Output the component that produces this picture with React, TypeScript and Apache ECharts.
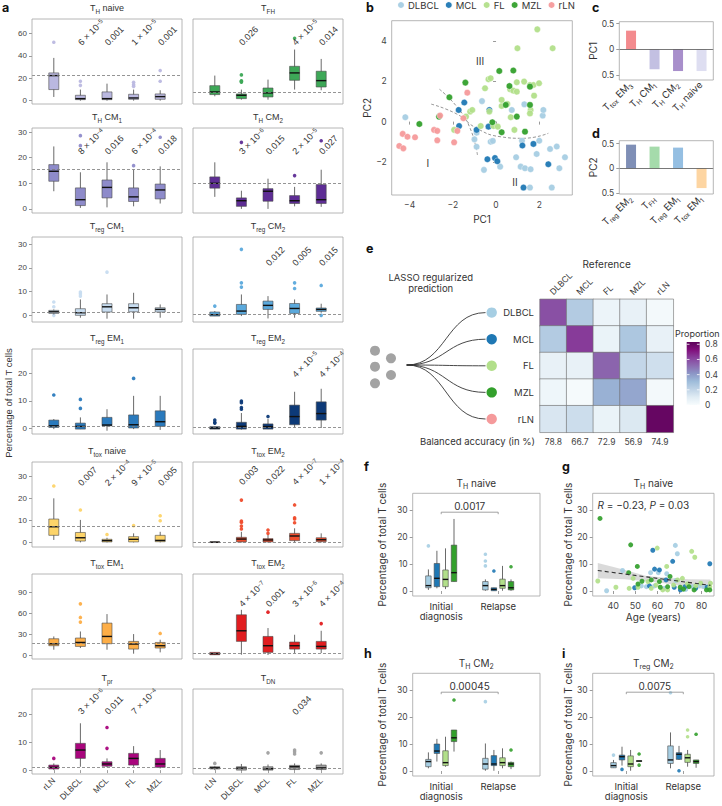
import React, { useEffect, useRef } from 'react';
import * as echarts from 'echarts';

// ---------------- categories ----------------
const subtypes = ['rLN', 'DLBCL', 'MCL', 'FL', 'MZL'];
const lymphomas = ['DLBCL', 'MCL', 'FL', 'MZL'];
const groups = ['Initial\ndiagnosis', 'Relapse'];

// ---------------- panel a : [min, Q1, median, Q3, max] per subtype (rLN, DLBCL, MCL, FL, MZL) ----------------
const thNaiveBoxes = [[3.3, 9.9, 22.4, 24.8, 38.2], [0, 0.9, 1.8, 4.8, 9.9], [0, 0.9, 1.8, 7.8, 15.2], [0, 1.2, 2.4, 5.7, 9.9], [0, 1.2, 3.6, 6.0, 9.3]];
const thNaiveOut = [[0, 52.2], [1, 17.3], [1, 13.7], [3, 16.4], [3, 14.3], [3, 12.8], [4, 26.9], [4, 17.3]];
const thNaiveRef = 22.4;
const thNaiveP = [['DLBCL', '6 × 10^{−5}'], ['MCL', '0.001'], ['FL', '1 × 10^{−5}'], ['MZL', '0.001']];

const tfhBoxes = [[3.9, 5.4, 7.8, 13.4, 22.4], [0.9, 1.8, 4.8, 6.0, 9.9], [0.9, 3.3, 6.9, 11.3, 18.8], [9.9, 18.2, 24.8, 30.7, 45.7], [9.3, 12.2, 17.9, 26.3, 37.3]];
const tfhOut = [[1, 23.0], [1, 17.8], [1, 16.6], [1, 17.2], [3, 55.8]];
const tfhRef = 7.8;
const tfhP = [['DLBCL', '0.026'], ['FL', '4 × 10^{−5}'], ['MZL', '0.014']];

const thCm1Boxes = [[6.9, 10.8, 14.7, 17.3, 24.4], [0.4, 1.3, 3.6, 8.2, 14.3], [0.6, 4.3, 8.4, 11.3, 18.2], [1.0, 2.9, 4.7, 8.2, 15.3], [2.1, 3.9, 7.4, 9.7, 16.6]];
const thCm1Out = [[1, 28.6], [1, 24.7], [3, 16.9], [4, 28.0]];
const thCm1Ref = 15.5;
const thCm1P = [['DLBCL', '8 × 10^{−4}'], ['MCL', '0.016'], ['FL', '6 × 10^{−4}'], ['MZL', '0.018']];

const thCm2Boxes = [[4.7, 8.1, 10.0, 12.5, 18.2], [0, 1.0, 3.2, 4.3, 7.1], [0, 3.0, 6.9, 7.9, 11.8], [1.0, 2.1, 3.2, 5.2, 8.6], [0.8, 2.1, 3.6, 9.5, 15.3]];
const thCm2Out = [[1, 26.0], [3, 13.0], [4, 26.6]];
const thCm2Ref = 9.9;
const thCm2P = [['DLBCL', '3 × 10^{−6}'], ['MCL', '0.015'], ['FL', '2 × 10^{−5}'], ['MZL', '0.027']];

const tregCm1Boxes = [[0.4, 0.8, 1.5, 2.1, 2.5], [-1.0, 0, 1.1, 2.8, 6.7], [-1.4, 1.4, 3.6, 4.9, 8.8], [-1.4, 1.5, 3.2, 4.9, 9.5], [-1.0, 1.4, 2.5, 3.2, 4.6]];
const tregCm1Out = [[0, 5.6], [0, 3.6], [0, 0], [1, 9.8], [1, 9.1], [1, 8.1], [2, 18.2]];
const tregCm1Ref = 1.5;
const tregCm1P: string[][] = [];

const tregCm2Boxes = [[-0.3, -0.3, 0.3, 1.4, 1.8], [-0.3, 0.4, 1.8, 4.6, 8.8], [-1.3, 2.5, 4.2, 6.0, 8.1], [-1.0, 0.8, 2.9, 5.0, 6.7], [1.1, 1.7, 2.5, 3.1, 4.9]];
const tregCm2Out = [[0, 3.9], [1, 27.8], [1, 13.7], [1, 11.9], [3, 13.7], [3, 11.3], [4, 12.6], [4, 0]];
const tregCm2Ref = 0.3;
const tregCm2P = [['MCL', '0.012'], ['FL', '0.005'], ['MZL', '0.015']];

const tregEm1Boxes = [[-0.4, 0.2, 0.8, 2.9, 3.3], [-0.4, -0.4, 0.6, 1.8, 3.9], [-1.0, 0.8, 1.1, 3.9, 6.9], [-0.4, 0, 1.2, 4.8, 11.8], [-0.7, 0.6, 2.3, 6.3, 11.8]];
const tregEm1Out = [[0, 12.1], [1, 10.5], [1, 7.2], [3, 18.2]];
const tregEm1Ref = 0.6;
const tregEm1P: string[][] = [];

const tregEm2Boxes = [[-0.4, -0.4, 0, 0.5, 0.5], [-0.6, -0.4, 0.6, 2.1, 5.5], [-0.4, -0.4, 0.5, 1.5, 3.3], [0.2, 1.2, 4.2, 8.4, 13.3], [0, 2.9, 5.3, 9.6, 14.4]];
const tregEm2Out = [[0, 2.9], [0, 2.1], [0, 1.8], [1, 9.9], [1, 9.3], [1, 7.5], [1, 6.9], [2, 4.2]];
const tregEm2Ref = 0.2;
const tregEm2P = [['FL', '4 × 10^{−5}'], ['MZL', '4 × 10^{−4}']];

const ttoxNaiveBoxes = [[1.1, 3.2, 7.1, 10.6, 20.0], [0, 0.6, 2.1, 4.5, 10.2], [0, 0.2, 0.8, 1.4, 2.1], [0, 0.2, 1.4, 2.6, 4.1], [0, 0.3, 0.9, 3.2, 4.8]];
const ttoxNaiveOut = [[0, 25.6], [1, 14.7], [2, 3.6], [3, 7.6], [4, 12.1], [4, 9.8]];
const ttoxNaiveRef = 7.3;
const ttoxNaiveP = [['DLBCL', '0.007'], ['MCL', '2 × 10^{−4}'], ['FL', '9 × 10^{−5}'], ['MZL', '0.005']];

const ttoxEm2aBoxes = [[0, 0, 0.1, 0.2, 0.3], [0, 0.2, 1.5, 2.3, 4.8], [0, 0.2, 1.1, 1.7, 3.3], [0, 0.8, 2.9, 4.1, 6.4], [0, 0.3, 1.2, 2.1, 4.1]];
const ttoxEm2aOut = [[1, 19.2], [1, 9.7], [1, 9.1], [1, 7.4], [1, 6.1], [2, 5.6], [2, 4.1], [3, 17.0], [3, 11.2], [3, 10.6], [3, 8.9]];
const ttoxEm2aRef = 0;
const ttoxEm2aP = [['DLBCL', '0.003'], ['MCL', '0.022'], ['FL', '4 × 10^{−7}'], ['MZL', '1 × 10^{−4}']];

const ttoxEm1Boxes = [[7.6, 13.3, 16.1, 23.3, 26.6], [10.0, 12.3, 18.0, 24.3, 33.7], [7.6, 16.1, 26.6, 45.7, 58.6], [1.9, 8.5, 15.7, 19.5, 30.0], [3.8, 10.0, 13.3, 18.0, 21.9]];
const ttoxEm1Out = [[1, 73.3], [1, 53.8], [1, 47.1], [4, 30.9]];
const ttoxEm1Ref = 16.7;
const ttoxEm1P: string[][] = [];

const ttoxEm2bBoxes = [[0, 0.4, 1.9, 3.8, 3.8], [0.4, 19.5, 34.7, 57.6, 64.7], [0, 3.8, 13.3, 26.6, 38.6], [2.8, 8.5, 13.3, 18.6, 29.0], [2.8, 8.5, 12.3, 19.5, 34.7]];
const ttoxEm2bOut = [[2, 61.4], [4, 45.0]];
const ttoxEm2bRef = 1.9;
const ttoxEm2bP = [['DLBCL', '4 × 10^{−7}'], ['MCL', '0.001'], ['FL', '3 × 10^{−6}'], ['MZL', '4 × 10^{−4}']];

const tprBoxes = [[0, 0.4, 1.0, 1.8, 2.4], [1.2, 4.2, 7.2, 9.6, 16.8], [1.0, 1.4, 2.2, 3.0, 4.2], [1.2, 1.8, 4.2, 6.0, 8.6], [0.6, 1.0, 2.2, 4.2, 7.2]];
const tprOut = [[0, 4.2], [2, 15.3], [2, 7.8]];
const tprRef = 1.0;
const tprP = [['DLBCL', '3 × 10^{−6}'], ['MCL', '0.011'], ['FL', '7 × 10^{−4}']];

const tdnBoxes = [[0, 0.4, 0.8, 1.2, 1.4], [0, 0, 0.7, 1.2, 2.2], [0, 0, 0.5, 1.2, 2.0], [0, 0.2, 1.2, 1.7, 2.4], [0, 0.2, 0.8, 1.8, 2.4]];
const tdnOut = [[0, 2.4], [2, 6.2], [3, 7.2], [3, 6.6], [3, 5.8], [4, 6.2]];
const tdnRef = 0.6;
const tdnP = [['FL', '0.034']];

// ---------------- panel b : PCA coordinates ----------------
const pcaDLBCL = [[-4.2, 0.22], [-0.9, -0.55], [-1.0, -0.88], [-0.9, -1.25], [-0.56, -2.4], [-0.25, -1.0], [-0.15, -0.96], [0.19, -2.24], [0.73, 0.58], [0.93, -1.77], [1.2, -0.95], [1.31, 0.86], [1.14, -2.24], [1.34, -2.32], [1.6, -2.37], [1.57, -3.28], [1.88, -1.61], [2.0, -0.95], [2.16, 0.3], [2.19, 0.58], [2.5, -1.36], [2.81, -1.24], [2.93, -2.32], [3.19, -1.77], [2.58, -3.28], [-0.65, 1.02]];
const pcaMCL = [[-1.47, 0.95], [-1.73, 0.58], [-1.71, -0.22], [-0.9, -0.41], [-0.35, -0.25], [-0.31, 0.58], [-0.4, -1.87], [-0.05, -1.81], [0.06, -1.97], [1.22, -1.19], [1.73, -1.11], [1.27, -3.28], [2.42, -2.12]];
const pcaFL = [[0.99, 3.65], [1.91, 4.59], [2.62, 3.65], [-0.35, 2.11], [-0.25, 2.16], [-0.51, 1.66], [-1.39, 0.25], [-1.2, 0.5], [-1.1, 0.58], [-0.71, -0.22], [-0.31, 0.5], [-0.12, -0.22], [0.08, -0.25], [0.26, 0.78], [0.52, 0.88], [0.65, 1.61], [0.8, 1.54], [0.96, 1.49], [0.96, 1.96], [1.3, 1.99], [1.57, 1.82], [1.73, 1.82], [1.99, 1.91], [1.76, 1.29], [1.6, 0.58], [1.57, 0.41], [0.68, 0.22], [0.85, -0.41], [-1.94, -0.41], [0.26, 1.08]];
const pcaMZL = [[-3.55, -0.12], [-2.16, 1.21], [-1.42, 1.94], [0.15, 2.52], [0.8, 2.54], [0.62, 1.77], [1.57, 1.74], [0.45, 0.83], [0.96, 0.25], [-0.17, -0.03], [0.26, -0.53], [1.34, -0.5], [1.57, 0.83], [-2.64, 0.25]];
const pcaRLN = [[-4.48, -1.21], [-4.29, -1.33], [-4.32, -0.61], [-4.1, -0.75], [-3.75, -0.78], [-2.87, -0.41], [-2.72, -0.46], [-2.72, -0.93], [-2.59, 0.3], [-1.94, -1.03], [-1.79, -0.46], [-1.51, 0.17], [-1.33, 1.44]];
const pcaCurveA = [[-3.0, 0.87], [-1.82, 0.38], [-0.9, -0.33], [0.19, -0.75], [1.27, -0.83], [2.42, -0.58]];
const pcaCurveB = [[-2.62, 1.61], [-1.82, 0.75], [-1.2, -0.33], [-0.86, -1.66]];
const pcaRegionPos = [[-3.16, -2.1], [0.88, -3.06], [-0.74, 2.99]];
const pcaRegionNames = ['I', 'II', 'III'];

// ---------------- panels c, d : loadings ----------------
const pc1Labels = ['T_{tox} EM_{3}', 'T_{H} CM_{1}', 'T_{H} CM_{2}', 'T_{H} naive'];
const pc1Values = [0.365, -0.39, -0.425, -0.425];
const pc2Labels = ['T_{reg} EM_{2}', 'T_{FH}', 'T_{reg} EM_{1}', 'T_{tox} EM_{1}'];
const pc2Values = [0.48, 0.44, 0.42, -0.4];

// ---------------- panel e : confusion proportions (rows = prediction, cols = reference) ----------------
const heatLabels = ['DLBCL', 'MCL', 'FL', 'MZL', 'rLN'];
const heatDLBCL = [0.6, 0.25, 0.05, 0.07, 0.02];
const heatMCL = [0.25, 0.65, 0.06, 0.27, 0.07];
const heatFL = [0.07, 0.07, 0.55, 0.2, 0.16];
const heatMZL = [0.04, 0.01, 0.35, 0.38, 0.02];
const heatRLN = [0.13, 0.17, 0.06, 0.12, 0.82];
const balancedAccuracy = [78.8, 66.7, 72.9, 56.9, 74.9];
const proportionTicks = [0, 0.2, 0.4, 0.6, 0.8];

// ---------------- panels f, h, i : [min, Q1, median, Q3, max] per lymphoma (DLBCL, MCL, FL, MZL) ----------------
const fInitial = [[0.4, 1.2, 2.0, 5.6, 8.0], [1.0, 1.6, 4.7, 10.2, 14.9], [0.7, 1.6, 4.3, 7.8, 15.8], [3.5, 3.5, 6.8, 17.0, 26.7]];
const fRelapse = [[0.1, 0.4, 2.0, 3.5, 4.3], [0.1, 0.1, 0.6, 1.2, 1.2], [0.1, 1.0, 2.0, 4.4, 9.3], [0.1, 0.4, 1.2, 3.5, 4.3]];
const fOutliers = [[0, 0, 16.7], [1, 0, 13.6], [1, 0, 11.1], [1, 0, 9.3], [1, 1, 7.4], [1, 3, 9.0]];
const fTest = { y: 29.2, p: '0.0017' };

const hInitial = [[1.0, 1.6, 3.5, 4.3, 6.9], [3.5, 6.5, 7.4, 10.0, 11.9], [1.6, 2.0, 3.1, 7.5, 12.7], [7.2, 10.9, 12.3, 15.2, 15.2]];
const hRelapse = [[0.1, 0.7, 2.6, 4.7, 10.2], [0.1, 2.0, 2.6, 5.7, 7.8], [1.0, 2.0, 3.1, 4.9, 8.4], [0.7, 1.6, 2.6, 3.2, 3.5]];
const hOutliers = [[0, 3, 26.3], [1, 0, 25.7], [1, 3, 7.8]];
const hTest = { y: 29.2, p: '0.00045' };

const iInitial = [[1.2, 1.2, 2.0, 3.1, 4.1], [2.0, 4.1, 5.3, 5.9, 9.0], [0.1, 1.6, 2.6, 5.6, 7.8], [3.6, 3.6, 3.7, 3.8, 3.8]];
const iRelapse = [[1.0, 2.8, 4.1, 9.3, 14.3], [4.1, 4.3, 6.2, 6.8, 9.3], [1.6, 3.2, 4.9, 6.2, 7.8], [1.2, 2.8, 3.5, 4.1, 4.1]];
const iOutliers = [[0, 0, 5.9], [0, 1, 0.6], [0, 3, 6.3], [0, 3, 2.2], [1, 0, 29.0], [1, 1, 0.1], [1, 2, 15.2], [1, 2, 12.7], [1, 3, 13.6]];
const iTest = { y: 29.2, p: '0.0075' };

// ---------------- panel g : age vs T_H naive ----------------
const ageDLBCL = [[37, 0.1], [44.2, 7.6], [56.9, 6.8], [68.1, 16.9], [69, 13.8], [64.2, 6.4], [60.4, 6.8], [55, 1.6], [58.7, 1.9], [63.1, 1.0], [72.8, 0.6], [75.8, 1.6], [78.8, 1.9], [81, 1.6], [68.4, 3.9], [52.7, 1.9]];
const ageMCL = [[57.9, 15.1], [58.7, 8.1], [60.9, 7.8], [66.9, 11.0], [83.7, 10.1], [49.7, 1.2], [56.4, 1.9], [63.9, 4.1], [67.6, 1.4], [70.4, 0.4], [72.5, 1.6], [77.3, 1.0], [82.5, 1.4]];
const ageFL = [[33, 3.7], [41.2, 1.4], [47.2, 1.0], [51.2, 1.4], [59.9, 15.9], [64.2, 9.1], [75.5, 14.7], [76.9, 12.5], [55.7, 3.5], [57.2, 1.0], [59.4, 2.2], [62.4, 0.4], [64.6, 0.4], [67.3, 2.2], [69.1, 4.1], [71.3, 4.7], [73.6, 2.6], [77.3, 1.9], [79.6, 2.9], [83.7, 1.6], [84, 2.9], [49, 4.7]];
const ageMZL = [[34, 26.9], [47.9, 17.1], [50.9, 9.1], [47, 6.8], [51.2, 2.6], [53, 3.6], [57.2, 4.1], [60.9, 3.5], [61.3, 1.4], [64.6, 1.6], [65.7, 5.4], [70.3, 1.4], [71.8, 0.7], [74.3, 1.6], [76.6, 0.4], [82.2, 0.4], [83.7, 0.4]];
const ageFit = [[33, 7.6], [84, 2.1]];
const bandAges = [33, 45, 55, 63, 74, 84];
const bandLower = [4.7, 4.4, 3.6, 2.9, 1.6, 0.5];
const bandUpper = [10.4, 7.9, 5.6, 5.0, 4.4, 4.3];

// ---------------- styling ----------------
const FA = '"Liberation Sans", Arial, Helvetica, sans-serif';
const FB = 'Inter, "Noto Sans", sans-serif';
const TXT = '#333';
const subtypeColor: any = { DLBCL: '#a6cee3', MCL: '#1f78b4', FL: '#b2df8a', MZL: '#33a02c', rLN: '#f59a9b' };
const lymphColors = lymphomas.map((n) => subtypeColor[n]);
const BUPU = ['#f7fcfd', '#e0ecf4', '#bfd3e6', '#9ebcda', '#8c96c6', '#8c6bb1', '#88419d', '#810f7c', '#5c0258'];
const pc1Colors = ['#f38b8e', '#c3c0e2', '#a88fcb', '#dedef1'];
const pc2Colors = ['#7f8fb6', '#a5dbab', '#95bfe2', '#fdd5a2'];

function richStyles(fs: number, fam: string, color = TXT) {
  const sm = +(fs * 0.7).toFixed(1);
  const base = { fontFamily: fam, color, fill: color };
  return {
    m: { ...base, fontSize: fs, lineHeight: fs + 2, verticalAlign: 'bottom', padding: [3, 0, 2, 0] },
    i: { ...base, fontSize: fs, fontStyle: 'italic', lineHeight: fs + 2, verticalAlign: 'bottom', padding: [3, 0, 2, 0] },
    s: { ...base, fontSize: sm, lineHeight: sm + 1, verticalAlign: 'bottom' },
    p: { ...base, fontSize: sm, lineHeight: sm + 1, verticalAlign: 'top' },
  };
}
function rt(s: string) {
  return s
    .split(/(_\{[^}]*\}|\^\{[^}]*\}|~\{[^}]*\})/)
    .filter((x) => x)
    .map((part) => {
      if (part.startsWith('_{')) return `{s|${part.slice(2, -1)}}`;
      if (part.startsWith('^{')) return `{p|${part.slice(2, -1)}}`;
      if (part.startsWith('~{')) return `{i|${part.slice(2, -1)}}`;
      return `{m|${part}}`;
    })
    .join('');
}
const minus = (v: number) => String(v).replace('-', '\u2212');

const panelsA = [
  { title: 'T_{H} naive', color: '#bab8e0', row: 0, col: 0, boxes: thNaiveBoxes, out: thNaiveOut, ref: thNaiveRef, p: thNaiveP, pOff: 25.5 },
  { title: 'T_{FH}', color: '#3da857', row: 0, col: 1, boxes: tfhBoxes, out: tfhOut, ref: tfhRef, p: tfhP, pOff: 25.5 },
  { title: 'T_{H} CM_{1}', color: '#8e8bca', row: 1, col: 0, boxes: thCm1Boxes, out: thCm1Out, ref: thCm1Ref, p: thCm1P, pOff: 25.5 },
  { title: 'T_{H} CM_{2}', color: '#5e2d95', row: 1, col: 1, boxes: thCm2Boxes, out: thCm2Out, ref: thCm2Ref, p: thCm2P, pOff: 25.5 },
  { title: 'T_{reg} CM_{1}', color: '#c7dcf0', row: 2, col: 0, boxes: tregCm1Boxes, out: tregCm1Out, ref: tregCm1Ref, p: tregCm1P, pOff: 25.5 },
  { title: 'T_{reg} CM_{2}', color: '#5ba9dc', row: 2, col: 1, boxes: tregCm2Boxes, out: tregCm2Out, ref: tregCm2Ref, p: tregCm2P, pOff: 28 },
  { title: 'T_{reg} EM_{1}', color: '#2a7abd', row: 3, col: 0, boxes: tregEm1Boxes, out: tregEm1Out, ref: tregEm1Ref, p: tregEm1P, pOff: 25.5 },
  { title: 'T_{reg} EM_{2}', color: '#0d3a78', row: 3, col: 1, boxes: tregEm2Boxes, out: tregEm2Out, ref: tregEm2Ref, p: tregEm2P, pOff: 27.5 },
  { title: 'T_{tox} naive', color: '#fdd469', row: 4, col: 0, boxes: ttoxNaiveBoxes, out: ttoxNaiveOut, ref: ttoxNaiveRef, p: ttoxNaiveP, pOff: 23 },
  { title: 'T_{tox} EM_{2}', color: '#ef4c2c', row: 4, col: 1, boxes: ttoxEm2aBoxes, out: ttoxEm2aOut, ref: ttoxEm2aRef, p: ttoxEm2aP, pOff: 22 },
  { title: 'T_{tox} EM_{1}', color: '#fdae47', row: 5, col: 0, boxes: ttoxEm1Boxes, out: ttoxEm1Out, ref: ttoxEm1Ref, p: ttoxEm1P, pOff: 25.5 },
  { title: 'T_{tox} EM_{2}', color: '#e11d20', row: 5, col: 1, boxes: ttoxEm2bBoxes, out: ttoxEm2bOut, ref: ttoxEm2bRef, p: ttoxEm2bP, pOff: 32 },
  { title: 'T_{pr}', color: '#a9057d', row: 6, col: 0, boxes: tprBoxes, out: tprOut, ref: tprRef, p: tprP, pOff: 24.5 },
  { title: 'T_{DN}', color: '#a0a0a0', row: 6, col: 1, boxes: tdnBoxes, out: tdnOut, ref: tdnRef, p: tdnP, pOff: 25 },
];
const A_BORDER_X = [32, 193];
const A_W = 150;
const A_H = 85;
const A_INSET = 8.5;
const A_ROW_TOPS = [19, 128, 237, 349, 462, 574, 689];
const A_ROW_SCALES = [
  { min: -3, max: 73, ticks: [0, 20, 40, 60] },
  { min: -1.6, max: 31.6, ticks: [0, 10, 20, 30] },
  { min: -2.8, max: 33, ticks: [0, 10, 20, 30] },
  { min: -2.2, max: 29, ticks: [0, 10, 20] },
  { min: -2.1, max: 36.5, ticks: [0, 10, 20, 30] },
  { min: -5.7, max: 116, ticks: [0, 30, 60, 90] },
  { min: -1.4, max: 29.1, ticks: [0, 10, 20] },
];
const SUB_OFF = [-12.8, -4.3, 4.3, 12.8];

function boxRenderer(color: any, bw: number, offsets?: number[]) {
  return (params: any, api: any) => {
    const k = offsets ? 2 : 1;
    const c = api.value(0);
    const dx = offsets ? offsets[api.value(1)] : 0;
    const pt = (v: number) => api.coord([c, v]);
    const x = pt(api.value(k))[0] + dx;
    const yMin = pt(api.value(k))[1];
    const yQ1 = pt(api.value(k + 1))[1];
    const yMed = pt(api.value(k + 2))[1];
    const yQ3 = pt(api.value(k + 3))[1];
    const yMax = pt(api.value(k + 4))[1];
    const fill = Array.isArray(color) ? color[api.value(1)] : color;
    return {
      type: 'group',
      children: [
        { type: 'line', shape: { x1: x, y1: yMin, x2: x, y2: yMax }, style: { stroke: '#2a2a2a', lineWidth: 0.7 } },
        { type: 'rect', shape: { x: x - bw / 2, y: yQ3, width: bw, height: Math.max(yQ1 - yQ3, 0.6) }, style: { fill, stroke: '#4a4a4a', lineWidth: 0.6 } },
        { type: 'line', shape: { x1: x - bw / 2, y1: yMed, x2: x + bw / 2, y2: yMed }, style: { stroke: '#111', lineWidth: 1.4 } },
      ],
    };
  };
}
function dotRenderer(colors: string[], offsets: number[], r: number) {
  return (params: any, api: any) => {
    const p = api.coord([api.value(0), api.value(2)]);
    return { type: 'circle', shape: { cx: p[0] + offsets[api.value(1)], cy: p[1], r }, style: { fill: colors[api.value(1)], opacity: 0.9 } };
  };
}
function textRenderer(texts: string[], fs: number, fam: string, rotation: number, align: string) {
  return (params: any, api: any) => {
    const p = api.coord([api.value(0), api.value(1)]);
    return { type: 'text', x: p[0], y: p[1], rotation, style: { text: rt(texts[params.dataIndex]), rich: richStyles(fs, fam), align, verticalAlign: 'middle' } };
  };
}
function bracketRenderer(text: string) {
  return (params: any, api: any) => {
    const a = api.coord([api.value(0), api.value(2)]);
    const b = api.coord([api.value(1), api.value(2)]);
    const d = 2;
    return {
      type: 'group',
      children: [
        { type: 'polyline', shape: { points: [[a[0], a[1] + d], [a[0], a[1]], [b[0], b[1]], [b[0], b[1] + d]] }, style: { stroke: '#8a8a8a', lineWidth: 0.8, fill: 'none' } },
        { type: 'text', x: (a[0] + b[0]) / 2, y: a[1] - 1.5, style: { text, fontSize: 10, fontFamily: FB, fill: TXT, align: 'center', verticalAlign: 'bottom' } },
      ],
    };
  };
}

function buildOption() {
  const grid: any[] = [];
  const xAxis: any[] = [];
  const yAxis: any[] = [];
  const series: any[] = [];
  const graphic: any[] = [];
  const nameStyle = { fontSize: 10, fontFamily: FB, color: TXT };
  let heatIdx = 0;

  const addGrid = (g: any, xa: any, ya: any) => {
    const gi = grid.length;
    grid.push(g);
    xAxis.push({ ...xa, gridIndex: gi });
    yAxis.push({ ...ya, gridIndex: gi });
    return { gi, xi: xAxis.length - 1, yi: yAxis.length - 1 };
  };
  const valAxis = (min: number, max: number, ticks: number[], fam: string, show: boolean, extra: any = {}, fmt: any = minus, fs = 8.5) => ({
    type: 'value', min, max,
    splitLine: { show: false }, axisLine: { show: false },
    axisTick: { show, length: 3, customValues: ticks, lineStyle: { color: '#808080', width: 0.8 } },
    axisLabel: { show, customValues: ticks, fontSize: fs, color: '#444', fontFamily: fam, margin: 5, formatter: (v: number) => (ticks.some((t) => Math.abs(t - v) < 1e-9) ? fmt(v) : '') },
    ...extra,
  });
  const frame = (x: number, y: number, w: number, h: number) =>
    graphic.push({ type: 'rect', silent: true, z: 50, shape: { x, y, width: w, height: h }, style: { fill: 'none', stroke: '#a3a3a3', lineWidth: 0.8 } });
  const label = (x: number, y: number, s: string, fs: number, fam: string, extra: any = {}, el: any = {}) =>
    graphic.push({ type: 'text', silent: true, z: 60, x, y, ...el, style: { text: rt(s), rich: richStyles(fs, fam), align: 'center', verticalAlign: 'middle', ...extra } });
  const plain = (x: number, y: number, s: string, fs: number, extra: any = {}, el: any = {}) =>
    graphic.push({ type: 'text', silent: true, z: 60, x, y, ...el, style: { text: s, fontSize: fs, fontFamily: FB, fill: TXT, align: 'center', verticalAlign: 'middle', ...extra } });
  const letter = (x: number, y: number, s: string) =>
    graphic.push({ type: 'text', silent: true, z: 60, x, y, style: { text: s, fontSize: 12.5, fontWeight: 'bold', fontFamily: FB, fill: '#111', align: 'left', verticalAlign: 'middle' } });

  // ================= panel a =================
  panelsA.forEach((p) => {
    const bx = A_BORDER_X[p.col];
    const top = A_ROW_TOPS[p.row];
    const sc = A_ROW_SCALES[p.row];
    const last = p.row === 6;
    const { xi, yi } = addGrid(
      { left: bx + A_INSET, top, width: A_W - 2 * A_INSET, height: A_H },
      {
        type: 'category', data: subtypes, splitLine: { show: false }, axisLine: { show: false },
        axisTick: { show: last, alignWithLabel: true, length: 3, lineStyle: { color: '#888', width: 0.8 } },
        axisLabel: { show: last, rotate: 45, interval: 0, fontSize: 8.5, color: TXT, fontFamily: FA, margin: 5 },
      },
      valAxis(sc.min, sc.max, sc.ticks, FA, p.col === 0, { offset: A_INSET }, minus, 8)
    );
    frame(bx, top, A_W, A_H);
    label(bx + A_W / 2, top - 10, p.title, 9, FA);
    series.push({
      type: 'scatter', xAxisIndex: xi, yAxisIndex: yi, data: p.out, symbolSize: 3.6, itemStyle: { color: p.color, opacity: 0.95 }, silent: true, z: 2,
      markLine: {
        silent: true, symbol: ['none', 'none'], label: { show: false }, animation: false,
        lineStyle: { type: [3, 2], color: '#7a7a7a', width: 0.8 },
        data: [[{ x: bx, yAxis: p.ref }, { x: bx + A_W, yAxis: p.ref }]],
      },
    });
    series.push({
      type: 'custom', xAxisIndex: xi, yAxisIndex: yi, renderItem: boxRenderer(p.color, 10), silent: true, z: 3,
      data: p.boxes.map((b, i) => [i, ...b]), encode: { x: 0, y: [1, 2, 3, 4, 5] },
    });
    if (p.p.length) {
      const yP = sc.max - (p.pOff / A_H) * (sc.max - sc.min);
      series.push({
        type: 'custom', xAxisIndex: xi, yAxisIndex: yi, silent: true, z: 6,
        renderItem: textRenderer(p.p.map((q) => q[1]), 9, FA, Math.PI / 4, 'left'),
        data: p.p.map(([c]) => [subtypes.indexOf(c), yP]), encode: { x: 0, y: 1 },
      });
    }
  });
  plain(8, 403, 'Percentage of total T cells', 9.5, { fontFamily: FA }, { rotation: Math.PI / 2 });
  letter(2, 7, 'a');

  // ================= panel b =================
  {
    const L = 391.7, T = 20.7, W = 180.6, H = 174.3;
    const { xi, yi } = addGrid(
      { left: L, top: T, width: W, height: H },
      valAxis(-4.83, 3.53, [-4, -2, 0, 2], FB, true, { name: 'PC1', nameLocation: 'middle', nameGap: 19, nameTextStyle: nameStyle }),
      valAxis(-3.65, 5.02, [-2, 0, 2, 4], FB, true, { name: 'PC2', nameLocation: 'middle', nameGap: 17, nameTextStyle: nameStyle })
    );
    frame(L, T, W, H);
    [pcaCurveA, pcaCurveB].forEach((c) =>
      series.push({ type: 'line', xAxisIndex: xi, yAxisIndex: yi, data: c, smooth: 0.5, symbol: 'none', silent: true, z: 2, lineStyle: { type: [3, 2], color: '#8a8a8a', width: 0.9 } })
    );
    ([['DLBCL', pcaDLBCL], ['MCL', pcaMCL], ['FL', pcaFL], ['MZL', pcaMZL], ['rLN', pcaRLN]] as any[]).forEach(([name, pts]) =>
      series.push({ name, type: 'scatter', xAxisIndex: xi, yAxisIndex: yi, data: pts, symbolSize: 6.5, silent: true, z: 3, itemStyle: { color: subtypeColor[name], borderColor: '#fff', borderWidth: 0.4, opacity: 0.95 } })
    );
    series.push({
      type: 'custom', xAxisIndex: xi, yAxisIndex: yi, silent: true, z: 4,
      renderItem: textRenderer(pcaRegionNames, 10, FB, 0, 'center'), data: pcaRegionPos, encode: { x: 0, y: 1 },
    });
    letter(366, 7, 'b');
  }

  // ================= panels c, d =================
  const loadPanel = (T: number, H: number, min: number, max: number, labels: string[], values: number[], colors: string[], nm: string) => {
    const L = 619.3, W = 94;
    const { xi, yi } = addGrid(
      { left: L, top: T, width: W, height: H },
      {
        type: 'category', data: labels, axisLine: { show: false }, axisTick: { show: false }, splitLine: { show: false },
        axisLabel: { rotate: 45, interval: 0, margin: 4, formatter: (v: string) => rt(v), rich: richStyles(9.5, FB) },
      },
      valAxis(min, max, [-0.5, 0, 0.5], FB, true, { name: nm, nameLocation: 'middle', nameGap: 21, nameTextStyle: nameStyle }, (v: number) => String(Math.abs(v)))
    );
    frame(L, T, W, H);
    series.push({
      type: 'bar', xAxisIndex: xi, yAxisIndex: yi, barWidth: 10, silent: true,
      data: values.map((v, i) => ({ value: v, itemStyle: { color: colors[i] } })),
      markLine: { silent: true, symbol: ['none', 'none'], label: { show: false }, lineStyle: { type: 'solid', color: '#555', width: 0.8 }, data: [{ yAxis: 0 }] },
    });
  };
  loadPanel(21.7, 58.3, -0.6, 0.54, pc1Labels, pc1Values, pc1Colors, 'PC1');
  loadPanel(140.7, 53.3, -0.52, 0.56, pc2Labels, pc2Values, pc2Colors, 'PC2');
  letter(592, 7, 'c');
  letter(592, 133, 'd');

  // ================= panel e =================
  {
    const L = 540, T = 299.3, W = 133.3, H = 133;
    const gi = grid.length;
    grid.push({ left: L, top: T, width: W, height: H });
    xAxis.push({
      gridIndex: gi, type: 'category', position: 'top', data: heatLabels, axisLine: { show: false }, axisTick: { show: false }, splitLine: { show: false },
      axisLabel: { show: false },
      name: 'Reference', nameLocation: 'middle', nameGap: 30, nameTextStyle: nameStyle,
    });
    const xi = xAxis.length - 1;
    xAxis.push({
      gridIndex: gi, type: 'category', position: 'bottom', data: balancedAccuracy.map((v) => v.toFixed(1)), axisLine: { show: false }, axisTick: { show: false }, splitLine: { show: false },
      axisLabel: { interval: 0, fontSize: 8.5, fontFamily: FB, color: '#444', margin: 5 },
    });
    yAxis.push({
      gridIndex: gi, type: 'category', inverse: true, data: heatLabels, axisLine: { show: false }, axisTick: { show: false }, splitLine: { show: false },
      axisLabel: { fontSize: 9.5, fontFamily: FB, color: TXT, margin: 6 },
    });
    const yi = yAxis.length - 1;
    const rows = [heatDLBCL, heatMCL, heatFL, heatMZL, heatRLN];
    series.push({
      type: 'heatmap', xAxisIndex: xi, yAxisIndex: yi, silent: true,
      data: rows.flatMap((row, r) => row.map((v, c) => [c, r, v])),
      itemStyle: { borderColor: '#6e6e6e', borderWidth: 0.6 },
    });
    heatIdx = series.length - 1;
    plain(535, 441, 'Balanced accuracy (in %)', 9.5, { align: 'right' });

    const cell = H / 5;
    const cellW = W / 5;
    // column labels (reference classes), rotated
    heatLabels.forEach((n, c) =>
      plain(L + cellW * (c + 0.5) - 2, T - 6, n, 8.5, { align: 'left' }, { rotation: Math.PI / 4 })
    );
    const srcX = 406.7, srcY = 365;
    heatLabels.forEach((n, r) => {
      const ry = T + cell * (r + 0.5);
      graphic.push({ type: 'bezierCurve', silent: true, z: 40, shape: { x1: srcX, y1: srcY, x2: 485.5, y2: ry, cpx1: 446, cpy1: srcY, cpx2: 446, cpy2: ry }, style: { stroke: '#333', lineWidth: 0.9, fill: 'none' } });
      graphic.push({ type: 'circle', silent: true, z: 41, shape: { cx: 491.7, cy: ry, r: 5.2 }, style: { fill: subtypeColor[n] } });
    });
    [[375, 350.7], [375, 366.7], [375, 383.3], [391, 358.3], [391, 375]].forEach(([cx, cy]) =>
      graphic.push({ type: 'circle', silent: true, z: 41, shape: { cx, cy, r: 5 }, style: { fill: '#a3a3a3' } })
    );
    plain(430.7, 283, 'LASSO regularized\nprediction', 9.5, { lineHeight: 11.5 });

    // proportion legend
    const lgTop = 342, lgBot = 405, lgMax = 0.83;
    graphic.push({
      type: 'rect', silent: true, z: 40, shape: { x: 686.7, y: lgTop, width: 13, height: lgBot - lgTop },
      style: { fill: { type: 'linear', x: 0, y: 0, x2: 0, y2: 1, colorStops: BUPU.map((c, k) => ({ offset: 1 - k / (BUPU.length - 1), color: c })).reverse() } },
    });
    proportionTicks.forEach((v) => {
      const yy = lgBot - (v / lgMax) * (lgBot - lgTop);
      plain(705, yy, String(v), 8.5, { align: 'left', fill: '#444' });
      graphic.push({ type: 'line', silent: true, z: 42, shape: { x1: 686.7, y1: yy, x2: 689.5, y2: yy }, style: { stroke: '#fff', lineWidth: 0.8 } });
      graphic.push({ type: 'line', silent: true, z: 42, shape: { x1: 696.9, y1: yy, x2: 699.7, y2: yy }, style: { stroke: '#fff', lineWidth: 0.8 } });
    });
    plain(675, 333, 'Proportion', 9, { align: 'left' });
    letter(366, 248, 'e');
  }

  // ================= panels f, h, i =================
  const FH = 102.7;
  const groupPanel = (bx: number, top: number, bw: number, axisLeft: number, title: string, initial: number[][], relapse: number[][], outl: number[][], test: any, yGap: number) => {
    const { xi, yi } = addGrid(
      { left: axisLeft, top, width: 114, height: FH },
      {
        type: 'category', data: groups, splitLine: { show: false }, axisLine: { show: false },
        axisTick: { show: true, alignWithLabel: true, length: 3, lineStyle: { color: '#888', width: 0.8 } },
        axisLabel: { interval: 0, fontSize: 9.5, fontFamily: FB, color: TXT, margin: 5, lineHeight: 10.5 },
      },
      valAxis(-1.85, 36.2, [0, 10, 20, 30], FB, true, { offset: axisLeft - bx, name: 'Percentage of total T cells', nameLocation: 'middle', nameGap: yGap, nameTextStyle: nameStyle })
    );
    frame(bx, top, bw, FH);
    label(bx + bw / 2, top - 9, title, 10, FB);
    const data = [...initial.map((b, s) => [0, s, ...b]), ...relapse.map((b, s) => [1, s, ...b])];
    series.push({ type: 'custom', xAxisIndex: xi, yAxisIndex: yi, renderItem: boxRenderer(lymphColors, 5.5, SUB_OFF), data, encode: { x: 0, y: [2, 3, 4, 5, 6] }, silent: true, z: 3 });
    series.push({ type: 'custom', xAxisIndex: xi, yAxisIndex: yi, renderItem: dotRenderer(lymphColors, SUB_OFF, 1.8), data: outl, encode: { x: 0, y: 2 }, silent: true, z: 4 });
    series.push({ type: 'custom', xAxisIndex: xi, yAxisIndex: yi, renderItem: bracketRenderer(test.p), data: [[0, 1, test.y]], encode: { x: 0, y: 2 }, silent: true, z: 5 });
  };
  groupPanel(412.7, 493.3, 127.3, 412.7, 'T_{H} naive', fInitial, fRelapse, fOutliers, fTest, 26);
  groupPanel(412.7, 673.3, 127.3, 412.7, 'T_{H} CM_{2}', hInitial, hRelapse, hOutliers, hTest, 26);
  groupPanel(592.7, 673.3, 121.3, 597.8, 'T_{reg} CM_{2}', iInitial, iRelapse, iOutliers, iTest, 20);
  letter(364, 466, 'f');
  letter(364, 653, 'h');
  letter(562, 653, 'i');

  // ================= panel g =================
  {
    const L = 592.7, T = 493.3, W = 121.3;
    const { xi, yi } = addGrid(
      { left: L, top: T, width: W, height: FH },
      valAxis(30.7, 85.6, [40, 50, 60, 70, 80], FB, true, { name: 'Age (years)', nameLocation: 'middle', nameGap: 16, nameTextStyle: nameStyle }, minus, 9),
      valAxis(-1.85, 36.2, [0, 10, 20, 30], FB, true, { name: 'Percentage of total T cells', nameLocation: 'middle', nameGap: 20, nameTextStyle: nameStyle })
    );
    frame(L, T, W, FH);
    label(L + W / 2, T - 9, 'T_{H} naive', 10, FB);
    series.push({
      type: 'custom', xAxisIndex: xi, yAxisIndex: yi, silent: true, z: 1, data: [[bandAges[0], bandLower[0]]], encode: { x: 0, y: 1 },
      renderItem: (params: any, api: any) => {
        const up = bandAges.map((a, k) => api.coord([a, bandUpper[k]]));
        const lo = bandAges.map((a, k) => api.coord([a, bandLower[k]])).reverse();
        return { type: 'polygon', shape: { points: [...up, ...lo] }, style: { fill: '#d4d4d4', opacity: 0.85 } };
      },
    });
    ([['DLBCL', ageDLBCL], ['MCL', ageMCL], ['FL', ageFL], ['MZL', ageMZL]] as any[]).forEach(([n, pts]) =>
      series.push({ type: 'scatter', xAxisIndex: xi, yAxisIndex: yi, data: pts, symbolSize: 5, silent: true, z: 3, itemStyle: { color: subtypeColor[n], opacity: 0.92 } })
    );
    series.push({ type: 'line', xAxisIndex: xi, yAxisIndex: yi, data: ageFit, symbol: 'none', silent: true, z: 4, lineStyle: { type: [4, 3], color: '#333', width: 1.1 } });
    label(597.5, 506, '~{R} = −0.23, ~{P} = 0.03', 10, FB, { align: 'left' });
    letter(562, 466, 'g');
  }

  return {
    animation: false,
    backgroundColor: '#fff',
    textStyle: { fontFamily: FB },
    legend: {
      data: ['DLBCL', 'MCL', 'FL', 'MZL', 'rLN'], left: 396, top: 0, padding: 0, icon: 'circle', itemWidth: 8, itemHeight: 8, itemGap: 5,
      textStyle: { fontSize: 9.5, fontFamily: FB, color: TXT, padding: [0, 0, 0, -2] }, selectedMode: false,
    },
    visualMap: [{ type: 'continuous', show: false, min: 0, max: 0.85, seriesIndex: heatIdx, dimension: 2, inRange: { color: BUPU } }],
    grid, xAxis, yAxis, series,
    graphic: { elements: graphic },
  };
}

export default function App() {
  const ref = useRef<HTMLDivElement>(null);
  useEffect(() => {
    document.body.style.margin = '0';
    const chart = echarts.init(ref.current as HTMLDivElement, null, { renderer: 'svg', width: 722, height: 806 });
    chart.setOption(buildOption() as any);
    return () => chart.dispose();
  }, []);
  return <div ref={ref} style={{ width: 722, height: 806 }} />;
}
